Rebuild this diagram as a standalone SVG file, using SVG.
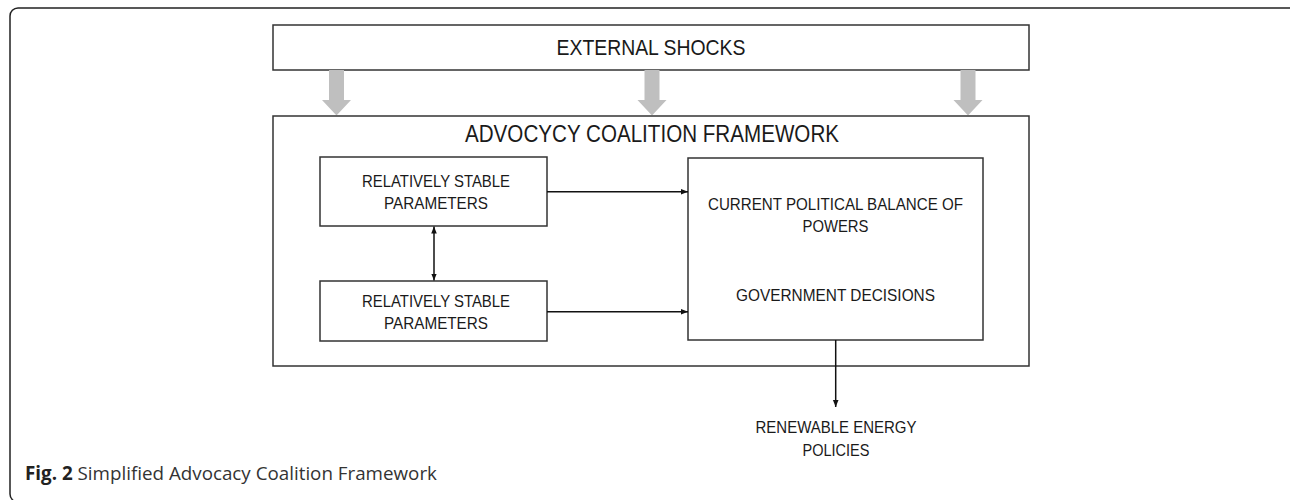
<svg xmlns="http://www.w3.org/2000/svg" width="1290" height="500" viewBox="0 0 1290 500">
<style>
.box{fill:#fff;stroke:#333;stroke-width:1.5}
.t{font-family:"Liberation Sans",Arial,sans-serif;fill:#1a1a1a;text-anchor:middle}
.s{font-size:17px}
.c{stroke:#111;stroke-width:1.5;fill:none}
.g{fill:#bfbfbf}
</style>
<defs>
<marker id="ah" viewBox="0 0 10 10" refX="10" refY="5" markerWidth="7" markerHeight="7" markerUnits="userSpaceOnUse" orient="auto-start-reverse">
<path d="M0,1 L10,5 L0,9 Z" fill="#111"/>
</marker>
</defs>
<rect x="10" y="8" width="1292" height="494" rx="8" fill="none" stroke="#222" stroke-width="1.5"/>
<g id="external-shocks">
<rect class="box" x="273" y="25" width="756" height="45"/>
<text class="t" x="651" y="55" font-size="22" textLength="189" lengthAdjust="spacingAndGlyphs">EXTERNAL SHOCKS</text>
</g>
<g id="shock-arrows">
<path class="g" d="M329,70 H344 V100 H351 L336.5,115.5 L322,100 H329 Z"/>
<path class="g" d="M644.5,70 H659.5 V100 H666.5 L652,115.5 L637.5,100 H644.5 Z"/>
<path class="g" d="M960.5,70 H975.5 V100 H982.5 L968,115.5 L953.5,100 H960.5 Z"/>
</g>
<g id="acf">
<rect class="box" x="273" y="116" width="756" height="250"/>
<text class="t" x="652" y="142" font-size="24" textLength="374" lengthAdjust="spacingAndGlyphs">ADVOCYCY COALITION FRAMEWORK</text>
</g>
<g id="params-top">
<rect class="box" x="320" y="157" width="227" height="69"/>
<text class="t s" x="436" y="187" textLength="148" lengthAdjust="spacingAndGlyphs">RELATIVELY STABLE</text>
<text class="t s" x="436" y="209.3" textLength="104" lengthAdjust="spacingAndGlyphs">PARAMETERS</text>
</g>
<g id="params-bottom">
<rect class="box" x="320" y="281" width="227" height="60"/>
<text class="t s" x="436" y="306.7" textLength="148" lengthAdjust="spacingAndGlyphs">RELATIVELY STABLE</text>
<text class="t s" x="436" y="329" textLength="104" lengthAdjust="spacingAndGlyphs">PARAMETERS</text>
</g>
<g id="balance">
<rect class="box" x="688" y="158" width="295" height="182"/>
<text class="t s" x="835.5" y="210" textLength="255" lengthAdjust="spacingAndGlyphs">CURRENT POLITICAL BALANCE OF</text>
<text class="t s" x="835.5" y="231.7" textLength="66" lengthAdjust="spacingAndGlyphs">POWERS</text>
<text class="t s" x="835.5" y="300.7" textLength="199" lengthAdjust="spacingAndGlyphs">GOVERNMENT DECISIONS</text>
</g>
<g id="policies">
<text class="t s" x="836" y="433.3" textLength="161" lengthAdjust="spacingAndGlyphs">RENEWABLE ENERGY</text>
<text class="t s" x="836" y="455.7" textLength="67" lengthAdjust="spacingAndGlyphs">POLICIES</text>
</g>
<g id="connectors">
<line class="c" x1="547" y1="191.7" x2="688" y2="191.7" marker-end="url(#ah)"/>
<line class="c" x1="547" y1="311.7" x2="688" y2="311.7" marker-end="url(#ah)"/>
<line class="c" x1="434" y1="226.5" x2="434" y2="280.5" marker-start="url(#ah)" marker-end="url(#ah)"/>
<line class="c" x1="835.7" y1="340" x2="835.7" y2="407" marker-end="url(#ah)"/>
</g>
<text x="25" y="480" font-family="'Open Sans','Noto Sans',sans-serif" font-size="18.8" fill="#333"><tspan font-weight="bold" fill="#222">Fig. 2</tspan> Simplified Advocacy Coalition Framework</text>
</svg>
